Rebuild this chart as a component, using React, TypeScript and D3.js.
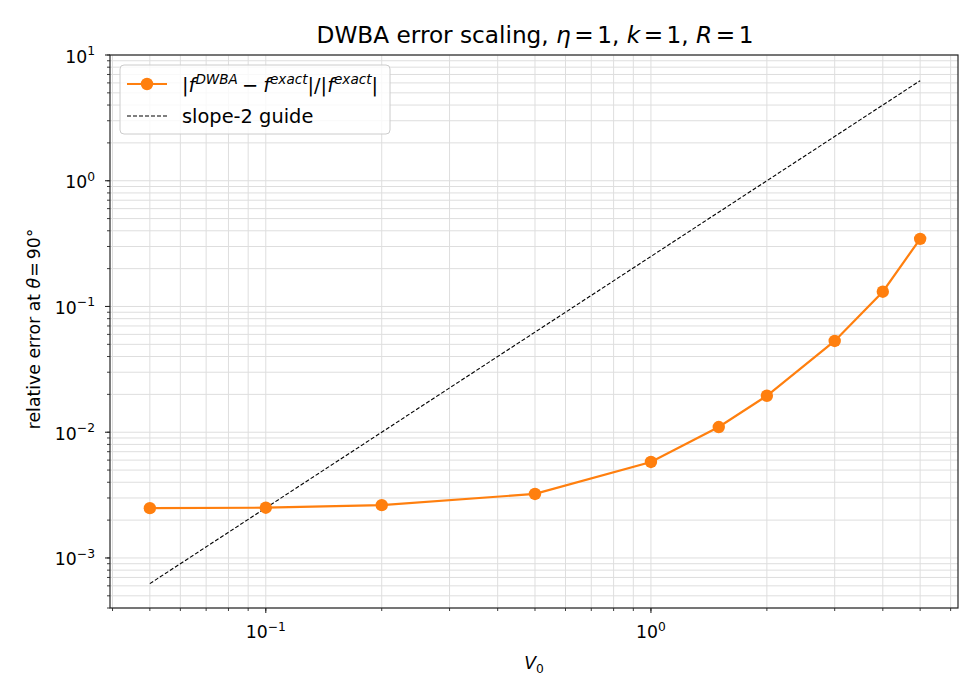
import React from "react";
import * as d3 from "d3";

const V0 = [0.05, 0.1, 0.2, 0.5, 1, 1.5, 2, 3, 4, 5];
const relErr = [0.00249, 0.00251, 0.00263, 0.00323, 0.0058, 0.011, 0.0195, 0.0532, 0.131, 0.345];
const guideX = [0.05, 5];
const guideY = [0.000625, 6.25];
const xTickVals = [0.1, 1];
const xTickExps = ["−1", "0"];
const yTickVals = [1e-3, 1e-2, 1e-1, 1, 10];
const yTickExps = ["−3", "−2", "−1", "0", "1"];

const W = 980, H = 700;
const M = { left: 110, right: 958, top: 55, bottom: 608 };
const FONT = "DejaVu Sans, sans-serif";
const ORANGE = "#ff7f0e";
const TICK_FS = 17.3;
const SUP_FS = 12.3;
const LEG_FS = 19.4;
const LEG_SUP = 13.6;

export default function App() {
  const x = d3.scaleLog().domain([0.0394, 6.27]).range([M.left, M.right]);
  const y = d3.scaleLog().domain([4.0e-4, 10]).range([M.bottom, M.top]);

  const xMinor: number[] = [];
  for (let e = -2; e <= 1; e++) for (let m = 1; m <= 9; m++) {
    const v = m * Math.pow(10, e);
    if (v >= 0.0394 && v <= 6.27) xMinor.push(v);
  }
  const yMinor: number[] = [];
  for (let e = -4; e <= 1; e++) for (let m = 1; m <= 9; m++) {
    const v = m * Math.pow(10, e);
    if (v >= 4.0e-4 && v <= 10.0001) yMinor.push(v);
  }

  const line = d3.line<number>().x((d, i) => x(V0[i])).y((d) => y(d));
  const pts = relErr;
  const guide = d3.line<number>().x((d, i) => x(guideX[i])).y((d) => y(d));

  return (
    <div style={{ position: "absolute", left: 0, top: 0 }}>
      <svg width={W} height={H} style={{ display: "block", background: "#fff" }} fontFamily={FONT}>
        <defs>
          <clipPath id="plot">
            <rect x={M.left} y={M.top} width={M.right - M.left} height={M.bottom - M.top} />
          </clipPath>
        </defs>
        {/* grid */}
        <g stroke="#dedede" strokeWidth={1}>
          {xMinor.map((v, i) => (
            <line key={"gx" + i} x1={x(v)} x2={x(v)} y1={M.top} y2={M.bottom} />
          ))}
          {yMinor.map((v, i) => (
            <line key={"gy" + i} x1={M.left} x2={M.right} y1={y(v)} y2={y(v)} />
          ))}
        </g>
        {/* data */}
        <g clipPath="url(#plot)">
          <path d={guide(guideY) || ""} fill="none" stroke="#000" strokeWidth={1.1} strokeDasharray="4,2" />
          <path d={line(pts) || ""} fill="none" stroke={ORANGE} strokeWidth={2.2} />
          {pts.map((d, i) => (
            <circle key={i} cx={x(V0[i])} cy={y(d)} r={6.2} fill={ORANGE} />
          ))}
        </g>
        {/* spines */}
        <rect x={M.left} y={M.top} width={M.right - M.left} height={M.bottom - M.top} fill="none" stroke="#262626" strokeWidth={1.2} />
        {/* ticks */}
        <g stroke="#262626">
          {xMinor.map((v, i) => (
            <line key={"mx" + i} x1={x(v)} x2={x(v)} y1={M.bottom} y2={M.bottom + 3} strokeWidth={0.9} />
          ))}
          {xTickVals.map((v, i) => (
            <line key={"Mx" + i} x1={x(v)} x2={x(v)} y1={M.bottom} y2={M.bottom + 5} strokeWidth={1.1} />
          ))}
          {yMinor.map((v, i) => (
            <line key={"my" + i} x1={M.left - 3} x2={M.left} y1={y(v)} y2={y(v)} strokeWidth={0.9} />
          ))}
          {yTickVals.map((v, i) => (
            <line key={"My" + i} x1={M.left - 5} x2={M.left} y1={y(v)} y2={y(v)} strokeWidth={1.1} />
          ))}
        </g>
        <g fontSize={TICK_FS} fill="#000">
          {xTickVals.map((v, i) => (
            <text key={"tx" + i} x={x(v)} y={638} textAnchor="middle">
              10<tspan dy={-7.5} fontSize={SUP_FS}>{xTickExps[i]}</tspan>
            </text>
          ))}
          {yTickVals.map((v, i) => (
            <text key={"ty" + i} x={M.left - 15} y={y(v) + 7.5} textAnchor="end">
              10<tspan dy={-7.5} fontSize={SUP_FS}>{yTickExps[i]}</tspan>
            </text>
          ))}
        </g>
        {/* axis labels */}
        <text x={534} y={669} textAnchor="middle" fontSize={TICK_FS}>
          <tspan fontStyle="italic">V</tspan>
          <tspan dy={4} fontSize={SUP_FS}>0</tspan>
        </text>
        <text transform={`translate(40,329) rotate(-90)`} textAnchor="middle" fontSize={TICK_FS}>
          relative error at <tspan fontStyle="italic">θ</tspan><tspan dx={1}>=</tspan><tspan dx={3}>90°</tspan>
        </text>
        {/* title */}
        <text x={535} y={43} textAnchor="middle" fontSize={23.2}>
          DWBA error scaling, <tspan fontStyle="italic">η</tspan><tspan dx={3.5}>=</tspan><tspan dx={3.5}>1, </tspan>
          <tspan fontStyle="italic">k</tspan><tspan dx={3.5}>=</tspan><tspan dx={3.5}>1, </tspan>
          <tspan fontStyle="italic">R</tspan><tspan dx={3.5}>=</tspan><tspan dx={3.5}>1</tspan>
        </text>
        {/* legend */}
        <g>
          <rect x={120} y={65} width={270} height={69} rx={4} fill="#fff" fillOpacity={0.8} stroke="#cccccc" strokeWidth={1} />
          <line x1={127} x2={167} y1={84} y2={84} stroke={ORANGE} strokeWidth={2.2} />
          <circle cx={147} cy={84} r={6.2} fill={ORANGE} />
          <text x={182} y={92} fontSize={LEG_FS}>
            |<tspan fontStyle="italic">f</tspan><tspan dy={-8.5} fontSize={LEG_SUP} fontStyle="italic">DWBA</tspan>
            <tspan dy={8.5} dx={4}>−</tspan><tspan dx={5} fontStyle="italic">f</tspan><tspan dy={-8.5} fontSize={LEG_SUP} fontStyle="italic">exact</tspan>
            <tspan dy={8.5}>|/|</tspan><tspan fontStyle="italic">f</tspan><tspan dy={-8.5} fontSize={LEG_SUP} fontStyle="italic">exact</tspan>
            <tspan dy={8.5}>|</tspan>
          </text>
          <line x1={127} x2={167} y1={116} y2={116} stroke="#000" strokeWidth={1.1} strokeDasharray="4,2" />
          <text x={182} y={122.5} fontSize={LEG_FS}>slope-2 guide</text>
        </g>
      </svg>
    </div>
  );
}
